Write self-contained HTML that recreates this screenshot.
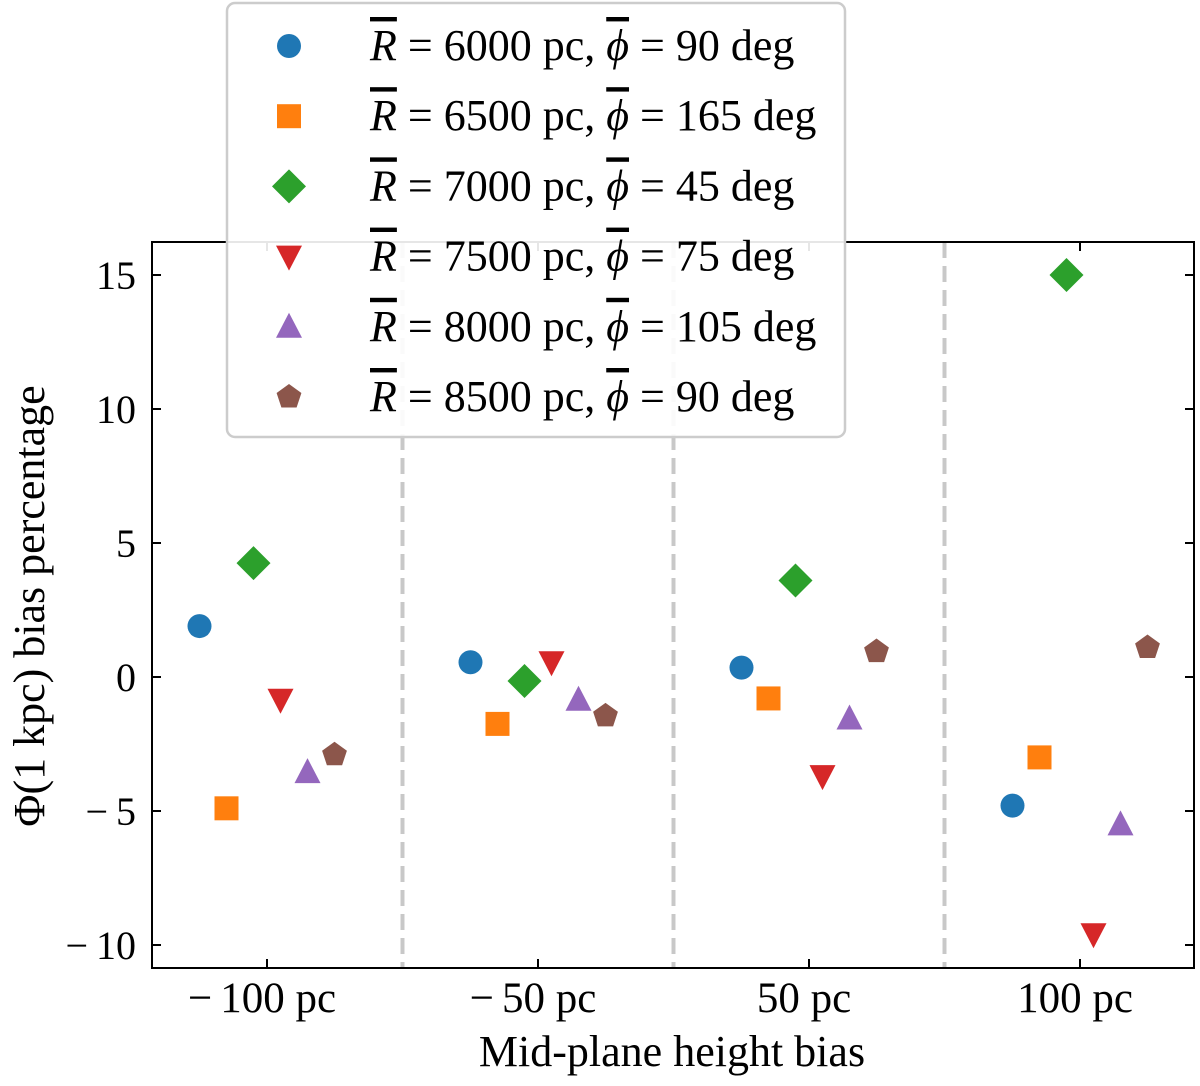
<!DOCTYPE html>
<html><head><meta charset="utf-8"><style>
body{margin:0;background:#fff;}
svg text{font-family:"Liberation Serif",serif;fill:#000;}
.ov{text-decoration:overline;}
.mn{letter-spacing:8px;}
</style></head><body>
<svg id="chart" width="1200" height="1081">
<g id="plot"></g>
</svg>
<script>
const categories = ["\u2212100 pc","\u221250 pc","50 pc","100 pc"];
const seriesLabels = ["6000|90","6500|165","7000|45","7500|75","8000|105","8500|90"];
const s6000 = [1.9, 0.55, 0.35, -4.8];
const s6500 = [-4.9, -1.75, -0.8, -3.0];
const s7000 = [4.25, -0.15, 3.6, 15.0];
const s7500 = [-0.85, 0.55, -3.7, -9.6];
const s8000 = [-3.55, -0.85, -1.55, -5.5];
const s8500 = [-2.9, -1.45, 0.95, 1.1];
const yTicks = [15,10,5,0,-5,-10];
const yTickLabels = ["15","10","5","0","\u22125","\u221210"];

const series=[s6000,s6500,s7000,s7500,s8000,s8500];
const colors=["#1f77b4","#ff7f0e","#2ca02c","#d62728","#9467bd","#8c564b"];
const shapes=["circle","square","diamond","tridown","triup","pentagon"];
const names=["series-r6000","series-r6500","series-r7000","series-r7500","series-r8000","series-r8500"];
const L=152,R=1194,T=242,B=968;
const yScale=v=>677-v*26.8;
const xCenter=i=>267+i*271;
const NS="http://www.w3.org/2000/svg";
const g=document.getElementById('plot');
function el(tag,attrs,parent){const e=document.createElementNS(NS,tag);for(const k in attrs)e.setAttribute(k,attrs[k]);(parent||g).appendChild(e);return e;}
function fmt(s){return s.replace("\u2212",'<tspan class="mn">\u2212</tspan>');}
function marker(shape,cx,cy,color,parent){
  let e;
  if(shape==="circle")e=el('circle',{cx:cx,cy:cy,r:12,fill:color},parent);
  else if(shape==="square")e=el('rect',{x:cx-12,y:cy-12,width:24,height:24,fill:color},parent);
  else if(shape==="diamond")e=el('polygon',{points:`${cx},${cy-17} ${cx+17},${cy} ${cx},${cy+17} ${cx-17},${cy}`,fill:color},parent);
  else if(shape==="tridown")e=el('polygon',{points:`${cx-13},${cy-11} ${cx+13},${cy-11} ${cx},${cy+14}`,fill:color},parent);
  else if(shape==="triup")e=el('polygon',{points:`${cx-13},${cy+11} ${cx+13},${cy+11} ${cx},${cy-14}`,fill:color},parent);
  else{let p=[];for(let k=0;k<5;k++){const a=-Math.PI/2+k*2*Math.PI/5;p.push((cx+13*Math.cos(a)).toFixed(1)+","+(cy+13*Math.sin(a)).toFixed(1));}e=el('polygon',{points:p.join(" "),fill:color},parent);}
  return e;
}
for(let i=0;i<categories.length-1;i++){
  const x=(xCenter(i)+xCenter(i+1))/2;
  const d=el('line',{x1:x,x2:x,y1:T,y2:B,stroke:"#c8c8c8","stroke-width":4,"stroke-dasharray":"16,8"});
  
  
}
const fr=el('rect',{x:L,y:T,width:R-L,height:B-T,fill:"none",stroke:"#000","stroke-width":2});


yTicks.forEach((v,i)=>{
  const y=yScale(v);
  el('line',{x1:L,x2:L+9,y1:y,y2:y,stroke:"#000","stroke-width":2});
  el('line',{x1:R,x2:R-9,y1:y,y2:y,stroke:"#000","stroke-width":2});
  const t=el('text',{x:L-16,y:y+14,"text-anchor":"end","font-size":40});
  t.innerHTML=fmt(yTickLabels[i]);
  
  
});
categories.forEach((c,i)=>{
  const x=xCenter(i);
  el('line',{x1:x,x2:x,y1:B,y2:B-9,stroke:"#000","stroke-width":2});
  el('line',{x1:x,x2:x,y1:T,y2:T+9,stroke:"#000","stroke-width":2});
  const t=el('text',{x:x-5,y:1012,"text-anchor":"middle","font-size":43});
  t.innerHTML=fmt(c);
  
  
});
series.forEach((s,si)=>{
  s.forEach((v,ci)=>{
    const m=marker(shapes[si],xCenter(ci)+(si-2.5)*27,yScale(v),colors[si]);
    
    
  });
});
const xt=el('text',{x:672,y:1066,"text-anchor":"middle","font-size":44});
xt.textContent="Mid-plane height bias";


const yt=el('text',{x:0,y:0,"text-anchor":"middle","font-size":44,transform:"translate(44,606) rotate(-90)"});
yt.textContent="\u03A6(1 kpc) bias percentage";


const lg=el('g',{});


el('rect',{x:227,y:3,width:618,height:434,rx:8,fill:"#fff","fill-opacity":0.9,stroke:"#ccc","stroke-width":2.5},lg);
seriesLabels.forEach((lab,i)=>{
  const y=46+i*70.2;
  const [r,phi]=lab.split("|");
  const e=el('g',{},lg);
  
  
  marker(shapes[i],289,y,colors[i],e);
  const t=el('text',{x:370,y:y+14,"font-size":44},e);
  t.innerHTML=`<tspan font-style="italic" class="ov">R</tspan> = ${r} pc, <tspan font-style="italic" class="ov">\u03D5</tspan> = ${phi} deg`;
});
</script>
</body></html>
